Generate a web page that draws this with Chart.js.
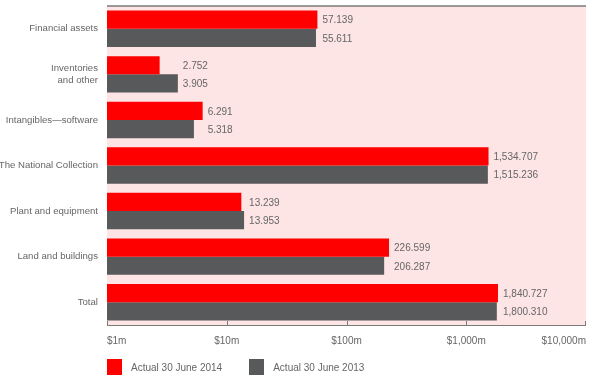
<!DOCTYPE html>
<html>
<head>
<meta charset="utf-8">
<script src="https://cdn.jsdelivr.net/npm/chart.js@4/dist/chart.umd.min.js"></script>
<style>
  html, body { margin: 0; padding: 0; background: #fff; }
  #wrap { position: relative; width: 589px; height: 386px; }
  #legend { position: absolute; left: 107px; top: 359px; display: flex; font: 10px "Liberation Sans", Arial, sans-serif; color: #666; }
  .item { display: flex; align-items: center; margin-right: 27px; }
  .box { width: 15px; height: 16px; margin-right: 9px; }
</style>
</head>
<body>
<div id="wrap">
  <canvas id="chart" width="589" height="386"></canvas>
  <div id="legend"></div>
</div>
<script>
const categories = [
  "Financial assets",
  ["Inventories", "and other"],
  "Intangibles\u2014software",
  "The National Collection",
  "Plant and equipment",
  "Land and buildings",
  "Total"
];
const actual2014 = [57.139, 2.752, 6.291, 1534.707, 13.239, 226.599, 1840.727];
const actual2013 = [55.611, 3.905, 5.318, 1515.236, 13.953, 206.287, 1800.310];
const tickValues = [1, 10, 100, 1000, 10000];

const seriesNames = ["Actual 30 June 2014", "Actual 30 June 2013"];
const seriesColors = ["#ff0000", "#58595b"];
const textColor = "#666666";
const fontFamily = '"Liberation Sans", Arial, sans-serif';

// pink plot background plus the top rule and bottom axis with upward ticks
const frame = {
  id: "frame",
  beforeDatasetsDraw(chart) {
    const { ctx, chartArea: a } = chart;
    ctx.save();
    ctx.fillStyle = "#fde4e5";
    ctx.fillRect(a.left, a.top, a.right - a.left, a.bottom - a.top);
    ctx.restore();
  },
  afterDatasetsDraw(chart) {
    const { ctx, chartArea: a, scales } = chart;
    ctx.save();
    ctx.strokeStyle = "#7a7a7a";
    ctx.lineWidth = 1.5;
    ctx.beginPath();
    ctx.moveTo(a.left, a.top);
    ctx.lineTo(a.right, a.top);
    ctx.stroke();
    ctx.lineWidth = 1;
    ctx.beginPath();
    ctx.moveTo(a.left, a.bottom + 0.5);
    ctx.lineTo(a.right, a.bottom + 0.5);
    tickValues.forEach(v => {
      const x = Math.min(Math.round(scales.x.getPixelForValue(v)) + 0.5, a.right - 0.5);
      ctx.moveTo(x, a.bottom);
      ctx.lineTo(x, a.bottom - 4);
    });
    ctx.stroke();
    ctx.restore();
  }
};

// value labels to the right of each pair of bars
const valueLabels = {
  id: "valueLabels",
  afterDatasetsDraw(chart) {
    const { ctx } = chart;
    const metas = [chart.getDatasetMeta(0), chart.getDatasetMeta(1)];
    ctx.save();
    ctx.font = "10px " + fontFamily;
    ctx.fillStyle = textColor;
    ctx.textBaseline = "middle";
    ctx.textAlign = "left";
    categories.forEach((c, i) => {
      const right = Math.max(metas[0].data[i].x, metas[1].data[i].x);
      metas.forEach((m, d) => {
        const v = chart.data.datasets[d].data[i];
        const txt = v.toLocaleString("en-US", { minimumFractionDigits: 3, maximumFractionDigits: 3 });
        ctx.fillText(txt, right + 5, m.data[i].y + 1);
      });
    });
    ctx.restore();
  }
};

const chart = new Chart(document.getElementById("chart"), {
  type: "bar",
  data: {
    labels: categories,
    datasets: [
      { label: seriesNames[0], data: actual2014, backgroundColor: seriesColors[0] },
      { label: seriesNames[1], data: actual2013, backgroundColor: seriesColors[1] }
    ]
  },
  options: {
    indexAxis: "y",
    responsive: false,
    animation: false,
    categoryPercentage: 0.8,
    barPercentage: 1.0,
    layout: { padding: { top: 6, right: 3, bottom: 0, left: 0 } },
    plugins: {
      legend: { display: false },
      tooltip: { enabled: false }
    },
    scales: {
      x: {
        type: "logarithmic",
        min: 1,
        max: 10000,
        afterBuildTicks: scale => { scale.ticks = tickValues.map(v => ({ value: v })); },
        afterFit: scale => {
          scale.height = 61;
          scale.paddingLeft = 0;
          scale.paddingRight = 0;
        },
        grid: { display: false, drawTicks: false },
        border: { display: false },
        ticks: {
          align: "inner",
          autoSkip: false,
          maxRotation: 0,
          padding: 10,
          color: textColor,
          font: { family: fontFamily, size: 10 },
          callback: v => "$" + Number(v).toLocaleString("en-US") + "m"
        }
      },
      y: {
        afterFit: scale => {
          scale.width = 107;
          scale.paddingTop = 0;
          scale.paddingBottom = 0;
        },
        grid: { display: false, drawTicks: false },
        border: { display: false },
        ticks: {
          padding: 9,
          color: textColor,
          font: { family: fontFamily, size: 9.6, lineHeight: 1.25 },
          autoSkip: false
        }
      }
    }
  },
  plugins: [frame, valueLabels]
});

// legend built from the dataset names/colours
const legend = document.getElementById("legend");
chart.data.datasets.forEach(ds => {
  const item = document.createElement("div");
  item.className = "item";
  item.innerHTML = '<span class="box" style="background:' + ds.backgroundColor + '"></span><span>' + ds.label + "</span>";
  legend.appendChild(item);
});
</script>
</body>
</html>
